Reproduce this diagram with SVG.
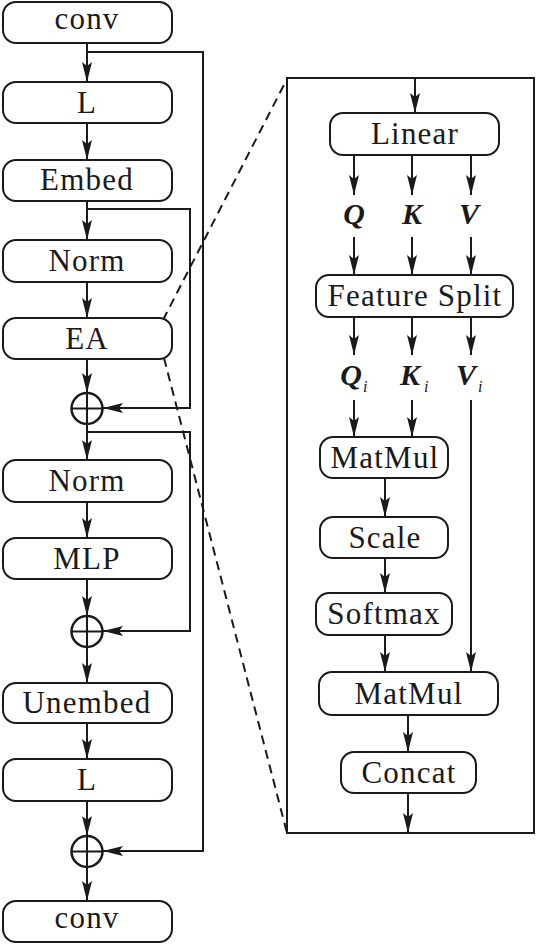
<svg xmlns="http://www.w3.org/2000/svg" width="538" height="946" viewBox="0 0 538 946">
<style>
.box{fill:#fff;stroke:#1a1a1a;stroke-width:2}
.t{font-family:"Liberation Serif","Times New Roman",serif;font-size:31px;letter-spacing:1.2px;fill:#1a1a1a;text-anchor:middle}
.v{font-family:"Liberation Serif","Times New Roman",serif;font-size:30px;font-weight:bold;font-style:italic;fill:#1a1a1a;text-anchor:middle}
.s{font-family:"Liberation Serif","Times New Roman",serif;font-size:16px;font-style:italic;fill:#1a1a1a}
.ln{fill:none;stroke:#1a1a1a;stroke-width:2}
.ar{fill:none;stroke:#1a1a1a;stroke-width:2;marker-end:url(#ah)}
.dash{fill:none;stroke:#1a1a1a;stroke-width:2;stroke-dasharray:9 6}
.plus{fill:#fff;stroke:#1a1a1a;stroke-width:2.5}
</style>
<defs>
<marker id="ah" viewBox="0 0 20 10" refX="20" refY="5" markerWidth="20" markerHeight="10" markerUnits="userSpaceOnUse" orient="auto">
<path d="M0,0 L20,5 L0,10 L4,5 Z" fill="#1a1a1a"/>
</marker>
</defs>
<rect width="538" height="946" fill="#fff"/>

<g id="connectors">
<line class="ar" x1="87" y1="43" x2="87" y2="82"/>
<line class="ar" x1="87" y1="123" x2="87" y2="160"/>
<line class="ar" x1="87" y1="201" x2="87" y2="240"/>
<line class="ar" x1="87" y1="282" x2="87" y2="318"/>
<line class="ar" x1="87" y1="359" x2="87" y2="393"/>
<line class="ar" x1="87" y1="424" x2="87" y2="460"/>
<line class="ar" x1="87" y1="502" x2="87" y2="538"/>
<line class="ar" x1="87" y1="579" x2="87" y2="616"/>
<line class="ar" x1="87" y1="647" x2="87" y2="683"/>
<line class="ar" x1="87" y1="723" x2="87" y2="759"/>
<line class="ar" x1="87" y1="801" x2="87" y2="836"/>
<line class="ar" x1="87" y1="867" x2="87" y2="901"/>
<polyline class="ar" points="87,52 203,52 203,851 103,851"/>
<polyline class="ar" points="87,209 190,209 190,408 103,408"/>
<polyline class="ar" points="87,432 190,432 190,631 103,631"/>
<line class="dash" x1="163" y1="320" x2="287" y2="79"/>
<line class="dash" x1="164" y1="358" x2="287" y2="833"/>
<line class="ar" x1="415" y1="78" x2="415" y2="113"/>
<line class="ar" x1="354" y1="155" x2="354" y2="195"/>
<line class="ar" x1="412" y1="155" x2="412" y2="195"/>
<line class="ar" x1="471" y1="155" x2="471" y2="195"/>
<line class="ar" x1="354" y1="237" x2="354" y2="275"/>
<line class="ar" x1="412" y1="237" x2="412" y2="275"/>
<line class="ar" x1="471" y1="237" x2="471" y2="275"/>
<line class="ar" x1="354" y1="317" x2="354" y2="355"/>
<line class="ar" x1="412" y1="317" x2="412" y2="355"/>
<line class="ar" x1="471" y1="317" x2="471" y2="355"/>
<line class="ar" x1="354" y1="400" x2="354" y2="437"/>
<line class="ar" x1="412" y1="400" x2="412" y2="437"/>
<line class="ar" x1="471" y1="400" x2="471" y2="672"/>
<line class="ar" x1="385" y1="478" x2="385" y2="517"/>
<line class="ar" x1="385" y1="558" x2="385" y2="593"/>
<line class="ar" x1="385" y1="635" x2="385" y2="672"/>
<line class="ar" x1="408" y1="715" x2="408" y2="752"/>
<line class="ar" x1="408" y1="793" x2="408" y2="833"/>
</g>

<g id="ea-detail-frame">
<rect x="287" y="78" width="247" height="755" fill="none" stroke="#1a1a1a" stroke-width="2"/>
</g>

<g id="conv1"><rect class="box" x="3" y="2" width="169" height="41" rx="13"/><text class="t" x="87" y="29">conv</text></g>
<g id="L1"><rect class="box" x="3" y="82" width="169" height="41" rx="13"/><text class="t" x="87" y="113">L</text></g>
<g id="embed"><rect class="box" x="3" y="160" width="169" height="41" rx="13"/><text class="t" x="87" y="190">Embed</text></g>
<g id="norm1"><rect class="box" x="3" y="240" width="169" height="42" rx="13"/><text class="t" x="87" y="271">Norm</text></g>
<g id="ea"><rect class="box" x="3" y="318" width="169" height="41" rx="13"/><text class="t" x="87" y="349">EA</text></g>
<g id="plus1"><circle class="plus" cx="87" cy="408.5" r="15.5"/><path class="ln" d="M71.5,408.5 H102.5 M87,393 V424"/></g>
<g id="norm2"><rect class="box" x="3" y="460" width="169" height="42" rx="13"/><text class="t" x="87" y="491">Norm</text></g>
<g id="mlp"><rect class="box" x="3" y="538" width="169" height="41" rx="13"/><text class="t" x="87" y="569">MLP</text></g>
<g id="plus2"><circle class="plus" cx="87" cy="631.5" r="15.5"/><path class="ln" d="M71.5,631.5 H102.5 M87,616 V647"/></g>
<g id="unembed"><rect class="box" x="3" y="683" width="169" height="40" rx="13"/><text class="t" x="87" y="713">Unembed</text></g>
<g id="L2"><rect class="box" x="3" y="759" width="169" height="42" rx="13"/><text class="t" x="87" y="790">L</text></g>
<g id="plus3"><circle class="plus" cx="87" cy="851.5" r="15.5"/><path class="ln" d="M71.5,851.5 H102.5 M87,836 V867"/></g>
<g id="conv2"><rect class="box" x="3" y="901" width="169" height="41" rx="13"/><text class="t" x="87" y="928">conv</text></g>

<g id="linear"><rect class="box" x="330" y="113" width="169" height="42" rx="13"/><text class="t" x="415" y="144">Linear</text></g>
<g id="qkv"><text class="v" x="354" y="224">Q</text><text class="v" x="412" y="224">K</text><text class="v" x="469" y="224">V</text></g>
<g id="featuresplit"><rect class="box" x="316" y="275" width="197" height="42" rx="13"/><text class="t" x="415" y="306">Feature Split</text></g>
<g id="qkvi">
<text class="v" x="351" y="385">Q</text><text class="s" x="363" y="392">i</text>
<text class="v" x="410" y="385">K</text><text class="s" x="424" y="392">i</text>
<text class="v" x="466" y="385">V</text><text class="s" x="478" y="392">i</text>
</g>
<g id="matmul1"><rect class="box" x="320" y="437" width="128" height="41" rx="13"/><text class="t" x="385" y="468">MatMul</text></g>
<g id="scale"><rect class="box" x="320" y="517" width="128" height="41" rx="13"/><text class="t" x="385" y="548">Scale</text></g>
<g id="softmax"><rect class="box" x="316" y="593" width="136" height="42" rx="13"/><text class="t" x="384" y="624">Softmax</text></g>
<g id="matmul2"><rect class="box" x="319" y="672" width="179" height="43" rx="13"/><text class="t" x="409" y="704">MatMul</text></g>
<g id="concat"><rect class="box" x="341" y="752" width="135" height="41" rx="13"/><text class="t" x="409" y="783">Concat</text></g>
</svg>
